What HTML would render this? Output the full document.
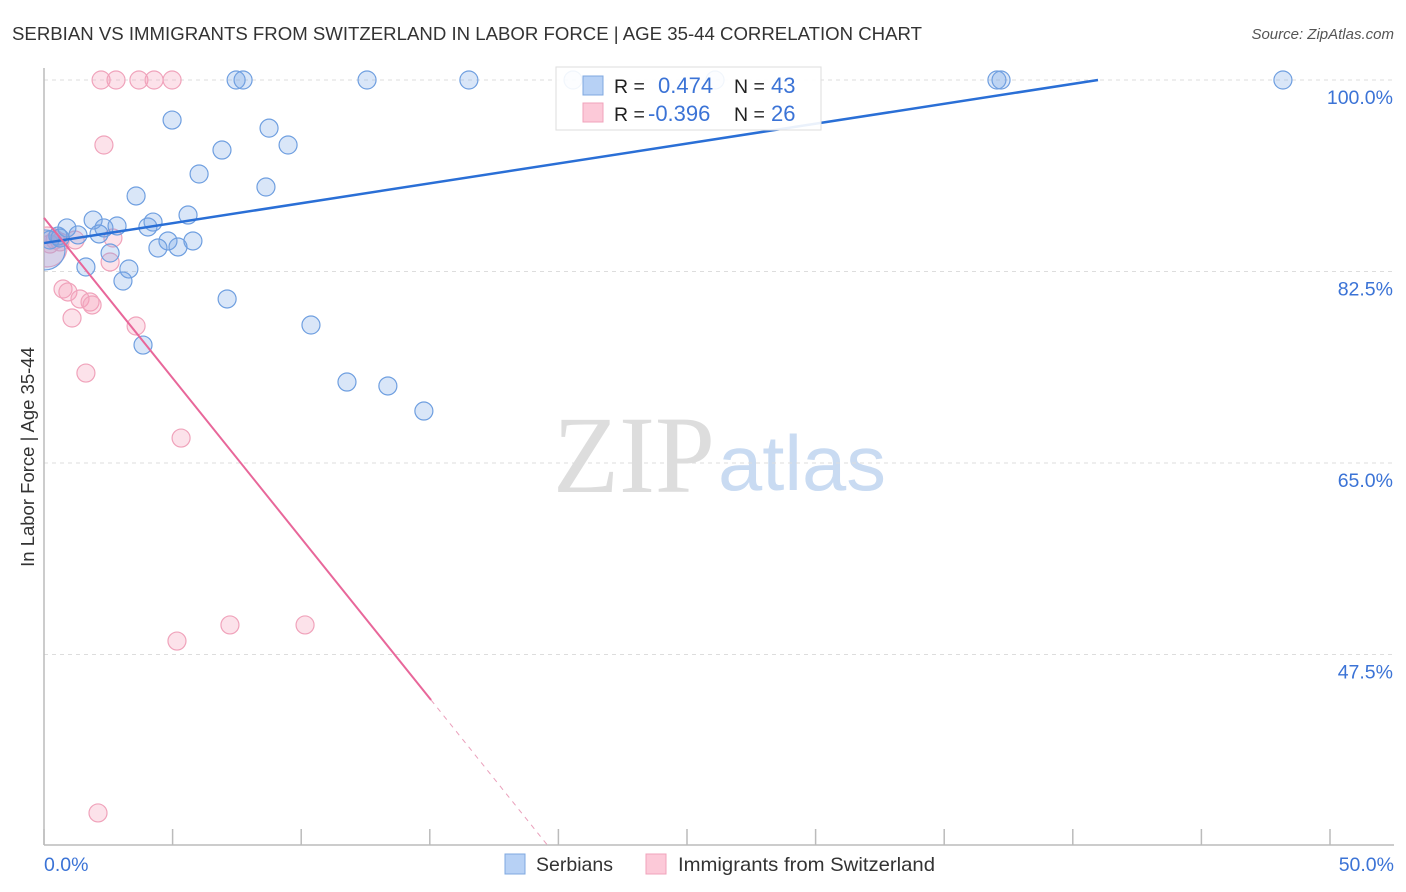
<!DOCTYPE html>
<html><head><meta charset="utf-8">
<style>
body{margin:0;background:#fff;font-family:"Liberation Sans",sans-serif;}
#wrap{position:relative;width:1406px;height:892px;overflow:hidden;}
</style></head>
<body>
<div id="wrap">
<svg id="chart" width="1406" height="892"></svg>
</div>
<script>
const blueX=[7.47,7.74,12.56,16.52,20.57,26.09,37.05,37.21,48.17,4.98,8.75,6.92,9.49,6.03,8.63,3.58,5.6,1.91,4.24,0.89,2.33,2.84,4.04,2.14,1.32,0.54,0.23,4.82,5.79,4.43,5.21,2.57,1.63,3.3,3.07,7.12,10.38,3.85,11.78,13.37,14.77,0.04,0.62];
const blueY=[100,100,100,100,100,100,100,100,100,96.34,95.6,93.6,94.06,91.41,90.22,89.4,87.66,87.2,87.02,86.48,86.48,86.66,86.57,85.93,85.84,85.74,85.38,85.29,85.29,84.65,84.74,84.19,82.91,82.73,81.63,79.99,77.61,75.78,72.4,72.04,69.75,84.47,85.56];
const blueBig=[41];
const pinkX=[2.22,2.8,3.69,4.28,4.98,2.33,2.68,1.21,0.43,0.23,2.57,0.74,0.93,1.4,1.79,1.87,1.09,3.58,1.63,5.33,7.23,10.15,5.17,2.1,0.12,0.62];
const pinkY=[100,100,100,100,100,94.06,85.56,85.38,85.38,85.01,83.37,80.9,80.63,79.99,79.71,79.44,78.25,77.52,73.22,67.28,50.2,50.2,48.73,33.02,84.74,85.2];
const pinkBig=[24];
const yTicks=[100,82.5,65,47.5];
const yTickLabels=["100.0%","82.5%","65.0%","47.5%"];
const xTicks=[0,5,10,15,20,25,30,35,40,45,50];
const blueTrend=[[0,85.1],[40.98,100]];
const pinkTrend=[[0,87.4],[15.05,43.34]];
const pinkTrendDash=[[15.05,43.34],[19.6,30.0]];

const NS="http://www.w3.org/2000/svg";
const svg=document.getElementById('chart');
const X=v=>44+v*25.72;
const Y=v=>80+(100-v)*10.943;
function mk(tag,attrs,parent){const e=document.createElementNS(NS,tag);for(const k in attrs)e.setAttribute(k,attrs[k]);(parent||svg).appendChild(e);return e;}

const defs=mk('defs',{});
const cp=mk('clipPath',{id:'plotclip'},defs);
mk('rect',{x:44,y:60,width:1360,height:785},cp);

let t=mk('text',{x:12,y:40,'font-size':18.5,fill:'#333',textLength:910,lengthAdjust:'spacingAndGlyphs'});t.textContent="SERBIAN VS IMMIGRANTS FROM SWITZERLAND IN LABOR FORCE | AGE 35-44 CORRELATION CHART";


t=mk('text',{x:1394,y:39,'font-size':15,fill:'#555','font-style':'italic','text-anchor':'end'});t.textContent="Source: ZipAtlas.com";



t=mk('text',{x:553,y:492,'font-size':110,fill:'#ddd','font-family':'Liberation Serif, serif',textLength:162,lengthAdjust:'spacingAndGlyphs'});t.textContent="ZIP";


t=mk('text',{x:718,y:490,'font-size':78,fill:'#c9dbf2',textLength:168,lengthAdjust:'spacingAndGlyphs'});t.textContent="atlas";



yTicks.forEach((v,i)=>{
 const g=mk('line',{x1:44,x2:1394,y1:Y(v),y2:Y(v),stroke:'#ddd','stroke-dasharray':'4,4'});
 
 
 const l=mk('text',{x:1393,y:Y(v)+24,'font-size':19.5,fill:'#3b73d6','text-anchor':'end'});l.textContent=yTickLabels[i];
 
 
});
let a=mk('line',{x1:44,x2:44,y1:68,y2:845,stroke:'#bbb','stroke-width':1.5});


a=mk('line',{x1:44,x2:1394,y1:845,y2:845,stroke:'#bbb','stroke-width':1.5});


xTicks.forEach(v=>{
 const k=mk('line',{x1:X(v),x2:X(v),y1:829,y2:845,stroke:'#bbb','stroke-width':1.5});
 
 
});
t=mk('text',{x:44,y:871,'font-size':19.5,fill:'#3b73d6'});t.textContent="0.0%";


t=mk('text',{x:1394,y:871,'font-size':19.5,fill:'#3b73d6','text-anchor':'end'});t.textContent="50.0%";


t=mk('text',{x:34,y:457,'font-size':18.5,fill:'#333','text-anchor':'middle',transform:'rotate(-90 34 457)'});t.textContent="In Labor Force | Age 35-44";



const pts=mk('g',{'clip-path':'url(#plotclip)'});


pinkX.forEach((v,i)=>{
 const c=mk('circle',{cx:X(v),cy:Y(pinkY[i]),r:pinkBig.includes(i)?20:9,fill:'rgba(246,160,185,0.3)',stroke:'#f0a3bb','stroke-width':1.2},pts);
 
 
});
blueX.forEach((v,i)=>{
 const c=mk('circle',{cx:X(v),cy:Y(blueY[i]),r:blueBig.includes(i)?20:9,fill:'rgba(120,165,230,0.28)',stroke:'#6f9fe0','stroke-width':1.2},pts);
 
 
});
let tl=mk('line',{x1:X(blueTrend[0][0]),y1:Y(blueTrend[0][1]),x2:X(blueTrend[1][0]),y2:Y(blueTrend[1][1]),stroke:'#2a6fd6','stroke-width':2.5});


tl=mk('line',{x1:X(pinkTrend[0][0]),y1:Y(pinkTrend[0][1]),x2:X(pinkTrend[1][0]),y2:Y(pinkTrend[1][1]),stroke:'#e8679a','stroke-width':2});


tl=mk('line',{x1:X(pinkTrendDash[0][0]),y1:Y(pinkTrendDash[0][1]),x2:X(pinkTrendDash[1][0]),y2:Y(pinkTrendDash[1][1]),stroke:'#eaa0bb','stroke-width':1,'stroke-dasharray':'5,5'});



const lg=mk('g',{});


mk('rect',{x:556,y:67,width:265,height:63,fill:'rgba(255,255,255,0.9)',stroke:'#ddd'},lg);
mk('rect',{x:583,y:76,width:20,height:19,fill:'#b7d1f5',stroke:'#7fa8e0'},lg);
mk('rect',{x:583,y:103,width:20,height:19,fill:'#fcc9d8',stroke:'#f0a3bb'},lg);
[[93,"R = ","0.474","43",658],[121,"R = ","-0.396","26",648]].forEach(r=>{
 let e=mk('text',{x:614,y:r[0],'font-size':19.5,fill:'#222'},lg);e.textContent=r[1];
 e=mk('text',{x:r[4],y:r[0],'font-size':22,fill:'#3b73d6'},lg);e.textContent=r[2];
 e=mk('text',{x:734,y:r[0],'font-size':19.5,fill:'#222'},lg);e.textContent="N = ";
 e=mk('text',{x:771,y:r[0],'font-size':22,fill:'#3b73d6'},lg);e.textContent=r[3];
});

const bl=mk('g',{});


let r=mk('rect',{x:505,y:854,width:20,height:20,fill:'#b7d1f5',stroke:'#7fa8e0'},bl);


t=mk('text',{x:536,y:871,'font-size':19.5,fill:'#333'},bl);t.textContent="Serbians";


r=mk('rect',{x:646,y:854,width:20,height:20,fill:'#fcc9d8',stroke:'#f0a3bb'},bl);


t=mk('text',{x:678,y:871,'font-size':19.5,fill:'#333',textLength:257,lengthAdjust:'spacingAndGlyphs'},bl);t.textContent="Immigrants from Switzerland";


</script>
</body></html>
